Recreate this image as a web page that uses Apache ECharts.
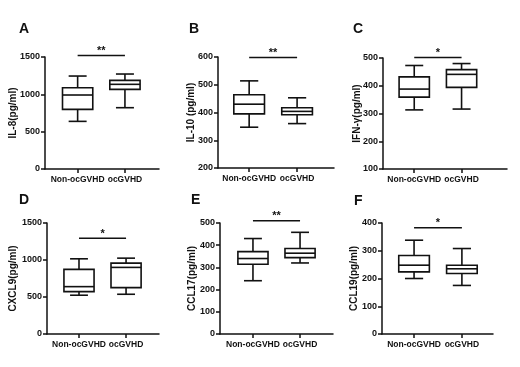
<!DOCTYPE html>
<html>
<head>
<meta charset="utf-8">
<script src="https://cdn.jsdelivr.net/npm/echarts@6/dist/echarts.min.js"></script>
<style>
  html, body { margin: 0; padding: 0; background: #fff; }
  #container { width: 520px; height: 367px; }
</style>
</head>
<body>
<div id="container"></div>
<script>
// groups on the x axis
var groups = ['Non-ocGVHD', 'ocGVHD'];

// box values: [min, q1, median, q3, max] for Non-ocGVHD and ocGVHD
var il8 = [[638, 799, 991, 1089, 1245], [821, 1067, 1134, 1187, 1272]];
var il10 = [[347, 395, 430, 464, 514], [360, 392, 404, 417, 453]];
var ifng = [[313, 359, 388, 432, 473], [316, 394, 441, 458, 480]];
var cxcl9 = [[524, 573, 640, 873, 1016], [537, 627, 900, 958, 1025]];
var ccl17 = [[240, 314, 340, 371, 430], [320, 344, 364, 385, 458]];
var ccl19 = [[200, 224, 248, 283, 338], [175, 218, 235, 248, 308]];

// significance marks
var sigLabels = ['**', '**', '*', '*', '**', '*'];
var sigHeights = [1520, 598, 502, 1295, 510, 383];

// y axis ranges [min, max, interval]
var yRanges = [[0, 1500, 500], [200, 600, 100], [100, 500, 100], [0, 1500, 500], [0, 500, 100], [0, 400, 100]];
var yNames = ['IL-8(pg/ml)', 'IL-10 (pg/ml)', 'IFN-γ(pg/ml)', 'CXCL9(pg/ml)', 'CCL17(pg/ml)', 'CCL19(pg/ml)'];
var panelLetters = ['A', 'B', 'C', 'D', 'E', 'F'];

var panelData = [il8, il10, ifng, cxcl9, ccl17, ccl19];

// layout per panel
var grids = [
  { left: 45, top: 57, width: 114, height: 112 },
  { left: 218, top: 57, width: 116, height: 111 },
  { left: 383, top: 58, width: 124, height: 111 },
  { left: 47, top: 223, width: 112, height: 111 },
  { left: 220, top: 223, width: 113, height: 111 },
  { left: 382, top: 223, width: 111, height: 111 }
];
var xRanges = [[0.31, 2.72], [0.35, 2.77], [0.34, 2.96], [0.32, 2.70], [0.30, 2.70], [0.33, 2.65]];
var nameGaps = [27, 22, 21, 29, 23, 23];
var letterPos = [[14, 17], [184, 17], [348, 17], [14, 188], [186, 188], [349, 189]];

var font = '"Liberation Sans", Arial, sans-serif';
var ink = '#111';

function renderBox(params, api) {
  var x = api.value(0);
  var pLow = api.coord([x, api.value(1)]);
  var pQ1 = api.coord([x, api.value(2)]);
  var pMed = api.coord([x, api.value(3)]);
  var pQ3 = api.coord([x, api.value(4)]);
  var pHigh = api.coord([x, api.value(5)]);
  var boxW = api.size([0.64, 0])[0];
  var capW = api.size([0.38, 0])[0];
  var cx = pMed[0];
  var style = { stroke: ink, lineWidth: 1.6, fill: null };
  return {
    type: 'group',
    children: [
      { type: 'rect', shape: { x: cx - boxW / 2, y: pQ3[1], width: boxW, height: pQ1[1] - pQ3[1] }, style: { stroke: ink, lineWidth: 1.6, fill: '#fff' } },
      { type: 'line', shape: { x1: cx - boxW / 2, y1: pMed[1], x2: cx + boxW / 2, y2: pMed[1] }, style: style },
      { type: 'line', shape: { x1: cx, y1: pQ3[1], x2: cx, y2: pHigh[1] }, style: style },
      { type: 'line', shape: { x1: cx, y1: pQ1[1], x2: cx, y2: pLow[1] }, style: style },
      { type: 'line', shape: { x1: cx - capW / 2, y1: pHigh[1], x2: cx + capW / 2, y2: pHigh[1] }, style: style },
      { type: 'line', shape: { x1: cx - capW / 2, y1: pLow[1], x2: cx + capW / 2, y2: pLow[1] }, style: style }
    ]
  };
}

function makeSigRender(label) {
  return function (params, api) {
    var a = api.coord([api.value(0), api.value(2)]);
    var b = api.coord([api.value(1), api.value(2)]);
    return {
      type: 'group',
      children: [
        { type: 'line', shape: { x1: a[0], y1: a[1], x2: b[0], y2: b[1] }, style: { stroke: ink, lineWidth: 1.5 } },
        { type: 'text', x: (a[0] + b[0]) / 2, y: a[1] + 1, style: { text: label, fill: ink, font: 'bold 11px ' + font, align: 'center', verticalAlign: 'bottom' } }
      ]
    };
  };
}

var option = {
  backgroundColor: '#fff',
  animation: false,
  title: [],
  grid: [],
  xAxis: [],
  yAxis: [],
  series: []
};

panelData.forEach(function (boxes, i) {
  option.title.push({
    text: panelLetters[i], left: letterPos[i][0], top: letterPos[i][1],
    textStyle: { fontFamily: font, fontWeight: 'bold', fontSize: 14, color: ink }
  });
  option.grid.push(grids[i]);
  option.xAxis.push({
    gridIndex: i, type: 'value', min: xRanges[i][0], max: xRanges[i][1],
    splitLine: { show: false },
    axisLine: { show: true, lineStyle: { color: ink, width: 1.5 } },
    axisTick: { show: true, customValues: [1, 2], length: 4, lineStyle: { color: ink, width: 1.5 } },
    axisLabel: {
      customValues: [1, 2], margin: 6, color: ink, fontFamily: font, fontWeight: 'bold', fontSize: 8.5,
      formatter: function (v) { return groups[Math.round(v) - 1] || ''; }
    }
  });
  option.yAxis.push({
    gridIndex: i, type: 'value', min: yRanges[i][0], max: yRanges[i][1], interval: yRanges[i][2],
    name: yNames[i], nameLocation: 'middle', nameGap: nameGaps[i], nameMoveOverlap: false,
    nameTextStyle: { fontFamily: font, fontWeight: 'bold', fontSize: 10, color: ink },
    splitLine: { show: false },
    axisLine: { show: true, lineStyle: { color: ink, width: 1.5 } },
    axisTick: { show: true, length: 4, lineStyle: { color: ink, width: 1.5 } },
    axisLabel: {
      margin: 5, color: ink, fontFamily: font, fontWeight: 'bold', fontSize: 9,
      formatter: function (v) { return String(v); }
    }
  });
  option.series.push({
    type: 'custom', xAxisIndex: i, yAxisIndex: i, clip: false,
    renderItem: renderBox,
    data: boxes.map(function (b, k) { return [k + 1].concat(b); })
  });
  option.series.push({
    type: 'custom', xAxisIndex: i, yAxisIndex: i, clip: false,
    renderItem: makeSigRender(sigLabels[i]),
    data: [[1, 2, sigHeights[i]]]
  });
});

var chart = echarts.init(document.getElementById('container'));
chart.setOption(option);
</script>
</body>
</html>
